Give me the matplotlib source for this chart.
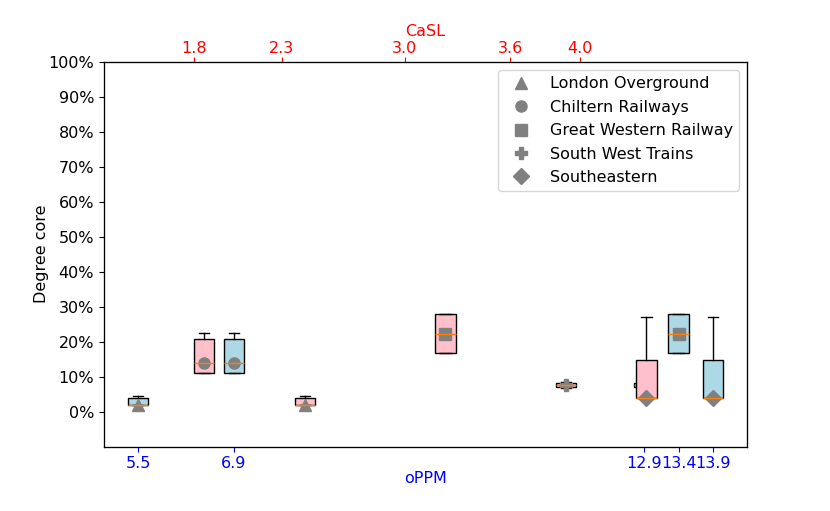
import matplotlib
matplotlib.use("Agg")
import matplotlib.pyplot as plt
from matplotlib.lines import Line2D
from matplotlib.ticker import PercentFormatter

# Operators, their marker and the two positions of each box
operators = ["London Overground", "Chiltern Railways", "Great Western Railway",
             "South West Trains", "Southeastern"]
markers = ["^", "o", "s", "P", "D"]
casl = [2.3, 1.8, 3.0, 3.6, 4.0]
oppm = [5.5, 6.9, 13.4, 12.9, 13.9]

# Degree core distribution per operator (fractions)
whislo = [0.018, 0.111, 0.168, 0.068, 0.038]
q1 = [0.018, 0.111, 0.168, 0.071, 0.038]
med = [0.018, 0.140, 0.223, 0.077, 0.038]
q3 = [0.040, 0.209, 0.279, 0.083, 0.148]
whishi = [0.046, 0.224, 0.279, 0.086, 0.271]

casl_ticks = [1.8, 2.3, 3.0, 3.6, 4.0]
oppm_ticks = [5.5, 6.9, 12.9, 13.4, 13.9]

plt.rcParams.update({'font.size': 11.5})
fig, ax = plt.subplots(figsize=(8.3, 5.11), dpi=100)
fig.subplots_adjust(left=0.125, right=0.9, top=0.879, bottom=0.126)

stats = []
for i in range(len(operators)):
    stats.append({"whislo": whislo[i], "q1": q1[i], "med": med[i],
                  "q3": q3[i], "whishi": whishi[i], "fliers": []})

# oPPM boxes (blue) on the main axis
b = ax.bxp(stats, positions=oppm, widths=0.3, patch_artist=True,
           manage_ticks=False)
for box in b["boxes"]:
    box.set_facecolor("lightblue")
for i in range(len(operators)):
    ax.plot(oppm[i], med[i], marker=markers[i], color="gray", ms=8, ls="none")
ax.set_xlim(min(oppm) - 0.5, max(oppm) + 0.5)
ax.set_ylim(-0.1, 1.0)
ax.set_yticks([i / 10 for i in range(11)])
ax.yaxis.set_major_formatter(PercentFormatter(1.0, decimals=0))
ax.set_ylabel("Degree core", labelpad=-0.5)
ax.set_xticks(oppm_ticks)
ax.set_xticklabels([str(t) for t in oppm_ticks])
ax.tick_params(axis="x", colors="blue")
ax.set_xlabel("oPPM", color="blue", labelpad=-0.5)

# CaSL boxes (pink) on a twin axis
axp = ax.twiny()
p = axp.bxp(stats, positions=casl, widths=0.1, patch_artist=True,
            manage_ticks=False)
for box in p["boxes"]:
    box.set_facecolor("pink")
for i in range(len(operators)):
    axp.plot(casl[i], med[i], marker=markers[i], color="gray", ms=8, ls="none")
axp.set_xlim(min(casl) - 0.5, max(casl) + 0.5)
axp.set_xticks([])

# CaSL tick labels
axt = ax.twiny()
axt.set_xlim(1.285, 4.95)
axt.set_xticks(casl_ticks)
axt.set_xticklabels([str(t) for t in casl_ticks])
axt.tick_params(axis="x", colors="red", pad=0.5)
axt.set_xlabel("CaSL", color="red", labelpad=3.5)

handles = [Line2D([], [], marker=m, color="gray", ls="none", ms=8) for m in markers]
axt.legend(handles, operators, loc="upper right", labelspacing=0.53)

fig.savefig("out.png")
